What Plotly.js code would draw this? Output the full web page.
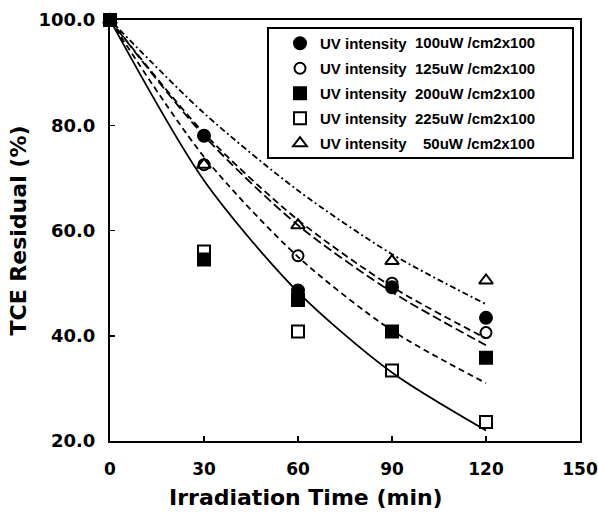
<!DOCTYPE html>
<html>
<head>
<meta charset="utf-8">
<script src="https://cdn.plot.ly/plotly-3.0.1.min.js"></script>
<style>html,body{margin:0;padding:0;background:#fff;}#chart{width:598px;height:512px;}</style>
</head>
<body>
<div id="chart"></div>
<script>
// Irradiation time (min)
var times = [0, 30, 60, 90, 120];

// Measured TCE residual (%)
var res100 = [100, 78.0, 48.6, 49.2, 43.4];
var res125 = [100, 72.5, 55.2, 50.0, 40.6];
var res200 = [100, 54.5, 46.8, 40.8, 35.8];
var res225 = [100, 56.0, 40.8, 33.4, 23.6];
var res50  = [100, 72.5, 61.0, 54.2, 50.5];

// Fitted curves
var fit50  = [100, 82.3, 67.6, 55.5, 46.0];
var fit100 = [100, 78.5, 62.0, 49.3, 39.5];
var fit125 = [100, 78.0, 61.0, 48.3, 38.2];
var fit200 = [100, 74.0, 55.0, 41.0, 31.0];
var fit225 = [100, 69.5, 48.3, 33.0, 22.0];

var seriesNames = ['UV intensity', 'UV intensity', 'UV intensity', 'UV intensity', 'UV intensity'];
var seriesValues = ['100uW /cm2x100', '125uW /cm2x100', '200uW /cm2x100', '225uW /cm2x100', '50uW /cm2x100'];

var xTicks = [0, 30, 60, 90, 120, 150];
var yTicks = [20, 40, 60, 80, 100];

function fitTrace(y, dash) {
  return {x: times, y: y, mode: 'lines', type: 'scatter', showlegend: false,
          line: {color: '#000', width: 1.8, dash: dash, shape: 'spline', smoothing: 0.8},
          hoverinfo: 'skip'};
}
function ptTrace(y, name, symbol, size, rank) {
  return {x: times, y: y, mode: 'markers', type: 'scatter', name: name,
          legendgroup: 'g' + rank, legendrank: rank, cliponaxis: false,
          marker: {symbol: symbol, size: size, color: '#000', line: {color: '#000', width: 2}}};
}

var traces = [
  fitTrace(fit50, '6px,3px,2px,3px'),
  fitTrace(fit100, '7px,4px'),
  fitTrace(fit125, '9px,4px'),
  fitTrace(fit200, '6px,4px'),
  fitTrace(fit225, 'solid'),
  ptTrace(res50, seriesNames[4], 'triangle-up-open', 12, 5),
  ptTrace(res225, seriesNames[3], 'square-open', 12, 4),
  ptTrace(res125, seriesNames[1], 'circle-open', 11, 2),
  ptTrace(res100, seriesNames[0], 'circle', 12, 1),
  ptTrace(res200, seriesNames[2], 'square', 12, 3)
];

var yTickFont = {family: 'DejaVu Sans', size: 18, color: '#000', weight: 'bold'};
var xTickFont = {family: 'DejaVu Sans', size: 17, color: '#000', weight: 'bold'};

var annotations = [
  {xref: 'paper', yref: 'paper', x: (306 - 110) / 470, y: -(497 - 441) / 421, xanchor: 'center', yanchor: 'middle',
   text: '<b>Irradiation Time (min)</b>', showarrow: false,
   font: {family: 'DejaVu Sans', size: 22, color: '#000'}}
];
var legendRowsY = [43, 68, 93, 118, 143];
for (var i = 0; i < seriesValues.length; i++) {
  annotations.push({xref: 'paper', yref: 'paper',
    x: (537 - 110) / 470, y: 1 - (legendRowsY[i] - 20) / 421,
    xanchor: 'right', yanchor: 'middle', showarrow: false,
    text: '<b>' + seriesValues[i] + '</b>',
    font: {family: 'Liberation Sans', size: 15, color: '#000'}});
}

var layout = {
  width: 598, height: 512,
  margin: {l: 110, r: 18, t: 20, b: 71},
  paper_bgcolor: '#fff', plot_bgcolor: '#fff',
  showlegend: true,
  legend: {x: (280 - 110) / 470, y: 1 - (27 - 20) / 421, xanchor: 'left', yanchor: 'top',
           bgcolor: 'rgba(0,0,0,0)', borderwidth: 0, tracegroupgap: 2.5,
           font: {family: 'Liberation Sans', size: 15, color: '#000', weight: 'bold'}},
  xaxis: {range: [0, 150], tickvals: xTicks, ticktext: xTicks.map(String),
          ticks: 'inside', ticklen: 5, tickwidth: 1.5, tickcolor: '#000',
          showline: true, linecolor: '#000', linewidth: 2, mirror: true,
          showgrid: false, zeroline: false, tickfont: xTickFont, ticklabelstandoff: 12},
  yaxis: {range: [20, 100], tickvals: yTicks, ticktext: yTicks.map(function(v){return v.toFixed(1);}),
          ticks: 'inside', ticklen: 5, tickwidth: 1.5, tickcolor: '#000',
          showline: true, linecolor: '#000', linewidth: 2, mirror: true,
          showgrid: false, zeroline: false, tickfont: yTickFont, ticklabelstandoff: 9,
          title: {text: '<b>TCE Residual (%)</b>', font: {family: 'DejaVu Sans', size: 22, color: '#000'}, standoff: 6}},
  shapes: [{type: 'rect', xref: 'paper', yref: 'paper',
            x0: (268 - 110) / 470, x1: (573 - 110) / 470,
            y0: 1 - (158 - 20) / 421, y1: 1 - (28 - 20) / 421,
            line: {color: '#000', width: 2}, fillcolor: 'rgba(0,0,0,0)'}],
  annotations: annotations
};

Plotly.newPlot('chart', traces, layout, {displayModeBar: false, staticPlot: true});
</script>
</body>
</html>
